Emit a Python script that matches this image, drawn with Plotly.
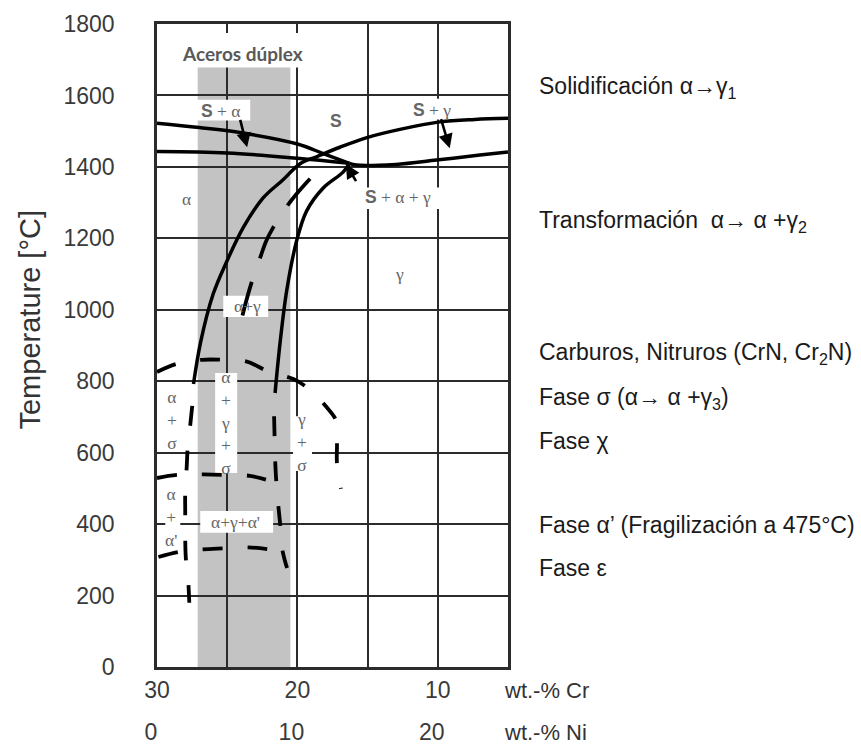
import plotly.graph_objects as go

# ---- axes -------------------------------------------------------------
temp_ticks = [0, 200, 400, 600, 800, 1000, 1200, 1400, 1600, 1800]
cr_ticks = [30, 25, 20, 15, 10, 5]
cr_tick_text = ["30", "", "20", "", "10", ""]
ni_ticks = [0, 10, 20]
ni_tick_text = ["0", "10", "20"]

# ---- phase boundaries (wt.-% Cr, °C) ---------------------------------
# liquidus of ferrite (S / S + alpha)
liq_alpha_cr = [30, 27, 24.1, 20, 18.2, 16.3]
liq_alpha_t = [1522, 1510, 1496, 1464, 1438, 1410]

# solidus of ferrite
sol_alpha_cr = [30, 25, 20, 16.3]
sol_alpha_t = [1443, 1439, 1424, 1410]

# solidus of austenite
sol_gamma_cr = [16.3, 15.8, 13, 10.1, 7, 5]
sol_gamma_t = [1410, 1405, 1407, 1419, 1433, 1442]

# alpha / alpha+gamma boundary running into the austenite liquidus
ag_left_cr = [27.4, 26.9, 26.0, 25.0, 23.86, 22.44, 21.02, 19.81, 18.6,
              16.97, 15.05, 12.7, 9.86, 7.37, 5]
ag_left_t = [792, 908, 1044, 1138, 1230, 1313, 1364, 1409, 1429,
             1455, 1482, 1505, 1526, 1533, 1536]

# gamma / alpha+gamma boundary (solid part)
ag_right_cr = [16.3, 16.73, 18.16, 19.34, 20.05, 20.76, 21.23, 21.59]
ag_right_t = [1410, 1386, 1341, 1277, 1194, 1054, 909, 767]

# gamma / alpha+gamma boundary (estimated, low temperature)
ag_right_low_cr = [21.66, 21.63, 21.59, 21.52, 21.38, 21.23, 21.09, 20.74]
ag_right_low_t = [702, 653, 585, 529, 460, 401, 332, 277]

# alpha / alpha+gamma boundary (estimated, low temperature)
ag_left_low_cr = [27.49, 27.63, 27.81, 27.88, 27.99, 27.99, 27.99, 27.95, 27.77, 27.7]
ag_left_low_t = [731, 678, 616, 563, 487, 437, 362, 307, 235, 180]

# middle dashed line inside alpha + gamma
ag_mid_cr = [19.1, 19.96, 20.74, 21.23, 21.73, 22.23, 22.65, 22.94, 23.22, 23.58, 23.94]
ag_mid_t = [1367, 1329, 1290, 1260, 1230, 1192, 1146, 1115, 1082, 1034, 980]

# sigma field, upper limit
sigma_top_cr = [30, 28.58, 26.8, 25.38, 23.6, 22.07, 20.29, 19.1, 17.91,
                17.2, 17.18, 17.18, 16.9]
sigma_top_t = [826, 849, 860, 860, 855, 827, 806, 776, 727,
               686, 621, 568, 499]

# sigma field lower limit / alpha' upper limit
alpha_p_top_cr = [30, 28.5, 26.7, 25.35, 23.37, 21.95]
alpha_p_top_t = [529, 538, 539, 538, 535, 521]

# alpha' field lower limit
alpha_p_low_cr = [29.9, 28.5, 26.8, 25.29, 23.5, 21.95]
alpha_p_low_t = [308, 322, 329, 332, 335, 329]

# pointer arrows (tail -> head)
arrow_tail_cr = [24.1, 9.8, 15.76]
arrow_tail_t = [1536, 1538, 1356]
arrow_head_cr = [23.58, 9.15, 16.55]
arrow_head_t = [1455, 1452, 1408]

# duplex steel composition band
duplex_cr = [27.1, 20.5]
duplex_t = [0, 1680]

# phase field labels
S = "<span style='font-family:Liberation Sans;font-weight:bold'>S</span>"
field_text = [S + " + α", S, S + " + γ", "α", S + " + α + γ", "γ", "α+γ",
              "α<br>+<br>γ<br>+<br>σ", "α<br>+<br>σ", "γ<br>+<br>σ",
              "α<br>+<br>α'", "α+γ+α'"]
field_cr = [25.5, 17.25, 10.43, 27.92, 12.84, 12.7, 23.58, 25.1, 28.91, 19.67, 28.98, 24.43]
field_t = [1557, 1528, 1559, 1310, 1316, 1101, 1011, 685, 692, 629, 420, 406]

# white backing boxes behind labels: (cr0, cr1, t0, t1)
box_cr0 = [28.91, 27.62, 11.99, 15.76, 25.28, 25.86, 20.31, 26.92, 29.41]
box_cr1 = [18.6, 23.36, 8.79, 9.72, 22.08, 24.29, 18.96, 21.73, 28.34]
box_t0 = [1678, 1530, 1533, 1282, 980, 543, 549, 376, 340]
box_t1 = [1775, 1588, 1591, 1342, 1039, 823, 702, 437, 479]

# notes on the right
notes = ["Solidificación α→γ<sub>1</sub>",
         "Transformación&nbsp;&nbsp;α→ α +γ<sub>2</sub>",
         "Carburos, Nitruros (CrN, Cr<sub>2</sub>N)",
         "Fase σ (α→ α +γ<sub>3</sub>)",
         "Fase χ",
         "Fase α’ (Fragilización a 475°C)",
         "Fase ε"]
notes_y = [0.9005, 0.6928, 0.4868, 0.4168, 0.3515, 0.2201, 0.1532]

fig = go.Figure()

solid_curves = [
    (liq_alpha_cr, liq_alpha_t),
    (sol_alpha_cr, sol_alpha_t),
    (sol_gamma_cr, sol_gamma_t),
    (ag_left_cr, ag_left_t),
    (ag_right_cr, ag_right_t),
]
for xs, ys in solid_curves:
    fig.add_trace(go.Scatter(x=xs, y=ys, mode="lines",
                             line=dict(color="black", width=3.5, shape="spline"),
                             hoverinfo="skip"))

dashed_curves = [
    (ag_right_low_cr, ag_right_low_t, "20px,25px"),
    (ag_left_low_cr, ag_left_low_t, "20px,25px"),
    (ag_mid_cr, ag_mid_t, "35px,25px"),
    (sigma_top_cr, sigma_top_t, "20px,25px"),
    (alpha_p_top_cr, alpha_p_top_t, "20px,25px"),
    (alpha_p_low_cr, alpha_p_low_t, "20px,25px"),
]
for xs, ys, dash in dashed_curves:
    fig.add_trace(go.Scatter(x=xs, y=ys, mode="lines",
                             line=dict(color="black", width=3.8, shape="spline", dash=dash),
                             hoverinfo="skip"))

# Ni scale shares the plot with the Cr scale
fig.add_trace(go.Scatter(x=[], y=[], xaxis="x2", mode="lines", hoverinfo="skip"))

# duplex band
fig.add_shape(type="rect", xref="x", yref="y",
              x0=duplex_cr[0], x1=duplex_cr[1], y0=duplex_t[0], y1=duplex_t[1],
              fillcolor="#c3c3c3", line=dict(width=0), layer="below")

for c0, c1, t0, t1 in zip(box_cr0, box_cr1, box_t0, box_t1):
    fig.add_shape(type="rect", xref="x", yref="y", x0=c0, x1=c1, y0=t0, y1=t1,
                  fillcolor="white", line=dict(width=0), layer="between")

fig.add_annotation(x=23.94, y=1718, xref="x", yref="y", text="<b>Aceros dúplex</b>",
                   showarrow=False, font=dict(family="Lato", size=19, color="#595959"))

for txt, c, t in zip(field_text, field_cr, field_t):
    fig.add_annotation(x=c, y=t, xref="x", yref="y", text=txt, showarrow=False,
                       font=dict(family="Liberation Serif", size=17.5, color="#666666"))

for tc, tt, hc, ht in zip(arrow_tail_cr, arrow_tail_t, arrow_head_cr, arrow_head_t):
    fig.add_annotation(x=hc, y=ht, ax=tc, ay=tt, xref="x", yref="y", axref="x", ayref="y",
                       text="", showarrow=True, arrowhead=2, arrowsize=1.1,
                       arrowwidth=2.6, arrowcolor="black")

for txt, yp in zip(notes, notes_y):
    fig.add_annotation(x=1.0816, y=yp, xref="paper", yref="paper", text=txt,
                       showarrow=False, xanchor="left", yanchor="middle",
                       font=dict(family="Liberation Sans", size=23, color="#1a1a1a"))

fig.add_annotation(x=-0.3604, y=0.5412, xref="paper", yref="paper",
                   text="Temperature [°C]", textangle=-90, showarrow=False,
                   xanchor="center", yanchor="middle",
                   font=dict(family="Liberation Sans", size=29, color="#333333"))
fig.add_annotation(x=1.110, y=-0.0373, xref="paper", yref="paper", text="wt.-% Cr",
                   showarrow=False, xanchor="center", yanchor="middle",
                   font=dict(family="Liberation Sans", size=22, color="#333333"))
fig.add_annotation(x=1.107, y=-0.1011, xref="paper", yref="paper", text="wt.-% Ni",
                   showarrow=False, xanchor="center", yanchor="middle",
                   font=dict(family="Liberation Sans", size=22, color="#333333"))

axis_line = "#2b2b2b"
tick_font = dict(family="Liberation Sans", size=23, color="#3a3a3a")
fig.update_layout(
    width=861, height=745,
    margin=dict(l=157, r=353, t=24, b=78, pad=0),
    plot_bgcolor="white", paper_bgcolor="white",
    showlegend=False,
    xaxis=dict(range=[30, 5], tickmode="array", tickvals=cr_ticks, ticktext=cr_tick_text,
               showgrid=True, gridcolor=axis_line, gridwidth=2,
               showline=True, linecolor=axis_line, linewidth=2.5, mirror=True,
               zeroline=False, ticks="", tickfont=tick_font, ticklabelstandoff=1,
               automargin=False),
    xaxis2=dict(overlaying="x", anchor="y", side="bottom", range=[0, 25],
                tickmode="array", tickvals=ni_ticks, ticktext=ni_tick_text,
                showgrid=False, showline=False, zeroline=False, ticks="",
                tickfont=tick_font, ticklabelstandoff=49, ticklabelshift=-6,
                automargin=False),
    yaxis=dict(range=[0, 1800], tickmode="array", tickvals=temp_ticks,
               showgrid=True, gridcolor=axis_line, gridwidth=2,
               showline=True, linecolor=axis_line, linewidth=2.5, mirror=True,
               zeroline=False, ticks="", tickfont=tick_font, ticklabelstandoff=35,
               automargin=False),
)

fig.write_html("out.html")
